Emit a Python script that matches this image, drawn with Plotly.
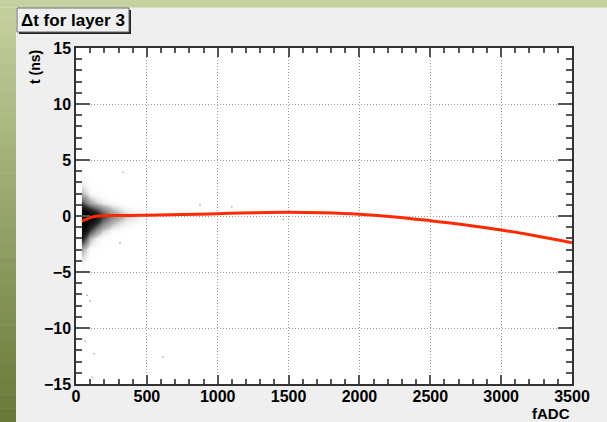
import plotly.graph_objects as go

# ---------------- data ----------------
# red fit curve (fADC, t in ns)
fit_x = [42, 60, 80, 100, 130, 170, 250, 400, 500, 750, 1000, 1250, 1500, 1750,
         2000, 2250, 2500, 2750, 3000, 3250, 3500]
fit_t = [-0.45, -0.35, -0.25, -0.15, -0.05, 0.0, 0.04, 0.05, 0.07, 0.13, 0.21, 0.29,
         0.33, 0.28, 0.15, -0.08, -0.42, -0.8, -1.25, -1.78, -2.38]

# density of the scatter cloud (grey level 0..1)
dens_x = [38, 45, 70, 100, 140, 190, 260, 350, 460, 600, 800]
dens_t = [-6, -4.5, -3, -2, -1.25, -0.5, 0, 0.5, 1.25, 2, 3, 4.5, 6]
dens_z = [
    [0, .01, .01, 0, 0, 0, 0, 0, 0, 0, 0],
    [0, .06, .04, .02, .01, 0, 0, 0, 0, 0, 0],
    [0, .28, .18, .07, .03, .01, 0, 0, 0, 0, 0],
    [0, .80, .55, .25, .12, .05, .02, 0, 0, 0, 0],
    [0, .95, .90, .65, .40, .20, .08, .03, .01, 0, 0],
    [0, 1, 1, .95, .80, .50, .28, .13, .06, .02, 0],
    [0, 1, 1, 1, .90, .65, .40, .22, .10, .03, .01],
    [0, .95, .92, .80, .65, .45, .25, .12, .05, .01, 0],
    [0, .60, .45, .30, .20, .12, .06, .02, .01, 0, 0],
    [0, .25, .18, .09, .05, .03, .01, 0, 0, 0, 0],
    [0, .10, .07, .03, .01, 0, 0, 0, 0, 0, 0],
    [0, .04, .02, .01, 0, 0, 0, 0, 0, 0, 0],
    [0, .01, 0, 0, 0, 0, 0, 0, 0, 0, 0],
]

# isolated outlier dots
out_x = [614, 99, 78, 127, 64, 113, 332, 311, 875, 1100, 1461]
out_t = [-12.6, -7.6, -7.1, -12.3, -11.2, -14.4, 3.9, -2.4, 1.0, 0.8, -0.3]

x_ticks = [0, 500, 1000, 1500, 2000, 2500, 3000, 3500]
y_ticks = [-15, -10, -5, 0, 5, 10, 15]

title_text = "Δt for layer 3"
x_title = "fADC"
y_title = "t (ns)"

# ---------------- geometry helpers ----------------
W, H = 607, 422
L, R, T, B = 76, 572, 48, 384


def px(v):
    return (v - L) / (R - L)


def py(v):
    return (B - v) / (B - T)


FONT = "Liberation Sans, Arial, Helvetica, sans-serif"

fig = go.Figure()

fig.add_trace(go.Heatmap(
    x=dens_x, y=dens_t, z=dens_z, zsmooth="best", showscale=False,
    zmin=0, zmax=1, hoverinfo="skip",
    colorscale=[[0, "rgba(255,255,255,0)"], [0.25, "rgba(90,90,90,0.45)"],
                [0.7, "rgba(20,20,20,0.9)"], [1, "rgba(0,0,0,1)"]],
))
fig.add_trace(go.Scatter(
    x=out_x, y=out_t, mode="markers",
    marker=dict(size=1.6, color="#9a9a9a"), showlegend=False, hoverinfo="skip"))
fig.add_trace(go.Scatter(
    x=fit_x, y=fit_t, mode="lines", line=dict(color="#ff2a00", width=3, shape="spline"),
    showlegend=False))

shapes = []
# canvas green frame: top strip and left gradient strip
shapes.append(dict(type="rect", xref="paper", yref="paper",
                   x0=px(0), x1=px(W), y0=py(0), y1=py(7.5),
                   fillcolor="#c5d19f", line=dict(width=0), layer="below"))
n = 30
c_top = (197, 209, 159)
c_bot = (104, 121, 56)
for i in range(n):
    f = (i + 0.5) / n
    c = tuple(int(c_top[k] + (c_bot[k] - c_top[k]) * f) for k in range(3))
    y0 = 7.5 + (H - 7.5) * i / n
    y1 = 7.5 + (H - 7.5) * (i + 1) / n + 0.5
    shapes.append(dict(type="rect", xref="paper", yref="paper",
                       x0=px(0), x1=px(16), y0=py(y0), y1=py(y1),
                       fillcolor="rgb(%d,%d,%d)" % c, line=dict(width=0), layer="below"))
# title box shadow and box
shapes.append(dict(type="rect", xref="paper", yref="paper",
                   x0=px(19), x1=px(131), y0=py(10), y1=py(34),
                   fillcolor="#222222", line=dict(width=0), layer="above"))
shapes.append(dict(type="rect", xref="paper", yref="paper",
                   x0=px(17), x1=px(129), y0=py(8), y1=py(32),
                   fillcolor="#f0f0f0", line=dict(color="#666666", width=1), layer="above"))

annotations = [
    dict(text=title_text, xref="paper", yref="paper", x=px(73), y=py(20),
         xanchor="center", yanchor="middle", showarrow=False,
         font=dict(family=FONT, size=17, color="black", weight="bold")),
    dict(text=y_title, xref="paper", yref="paper", x=px(35), y=py(67),
         xanchor="center", yanchor="middle", showarrow=False, textangle=-90,
         font=dict(family=FONT, size=14, color="black", weight="bold")),
    dict(text=x_title, xref="paper", yref="paper", x=1.0, y=py(413),
         xanchor="right", yanchor="middle", showarrow=False,
         font=dict(family=FONT, size=15, color="black", weight="bold")),
]

axis_common = dict(
    showline=True, linecolor="#333333", linewidth=1.5, mirror="ticks",
    ticks="inside", tickcolor="#555555", tickwidth=1.5,
    showgrid=True, gridcolor="#9a9a9a", griddash="1px,2px", gridwidth=1,
    zeroline=False,
    tickfont=dict(family=FONT, size=16, color="black", weight="bold"),
)

fig.update_xaxes(range=[0, 3500], tickvals=x_ticks, ticklen=9, ticklabelstandoff=-3,
                 minor=dict(dtick=100, ticklen=5, tickcolor="#555555", ticks="inside",
                            showgrid=False),
                 **axis_common)
fig.update_yaxes(range=[-15, 15], tickvals=y_ticks, ticklen=14,
                 minor=dict(dtick=1, ticklen=6, tickcolor="#555555", ticks="inside",
                            showgrid=False),
                 **axis_common)

fig.update_layout(
    width=W, height=H, autosize=False,
    margin=dict(l=L, r=W - R, t=T, b=H - B, pad=0),
    paper_bgcolor="#efefef", plot_bgcolor="white",
    shapes=shapes, annotations=annotations, showlegend=False,
)

fig.write_html("out.html")
